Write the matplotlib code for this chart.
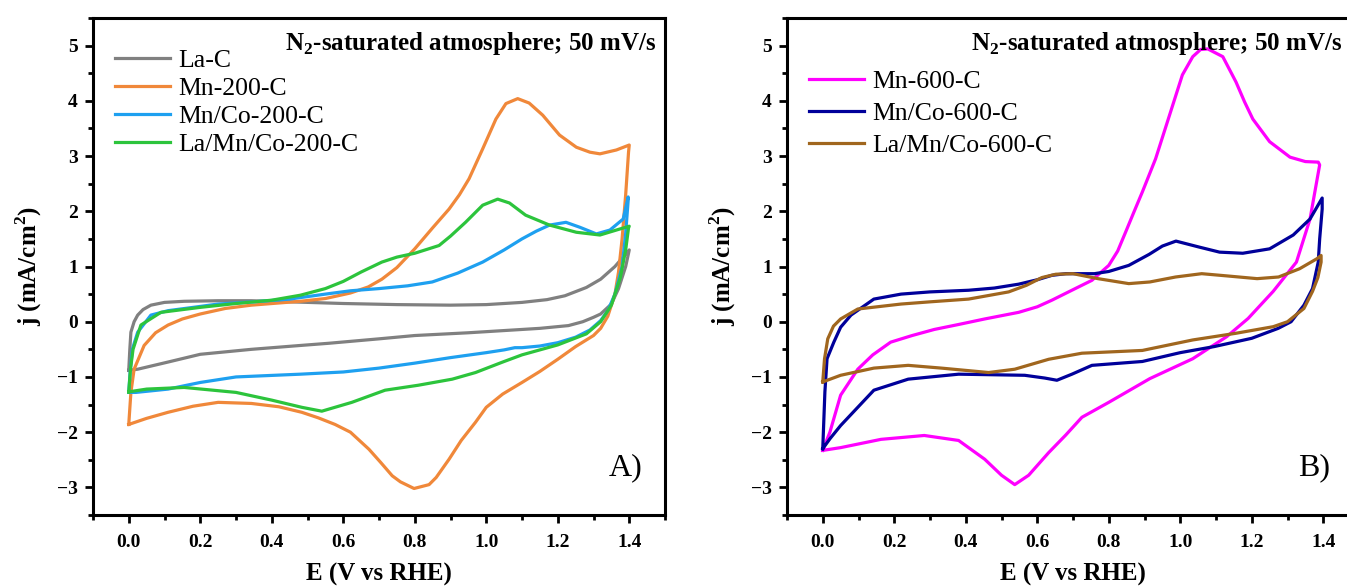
import numpy as np
import matplotlib
matplotlib.use('Agg')
import matplotlib.pyplot as plt
from matplotlib.ticker import MultipleLocator

# ---- panel A data (E in V vs RHE, j in mA/cm2), closed CV loops ----
E_LaC = [0.0, 0.003, 0.006, 0.015, 0.025, 0.04, 0.062, 0.1, 0.155, 0.25, 0.343, 0.45, 0.6, 0.75, 0.9,
         1.0, 1.1, 1.17, 1.22, 1.28, 1.32, 1.36, 1.38, 1.4,
         1.39, 1.37, 1.35, 1.32, 1.3, 1.27, 1.23, 1.15, 1.05, 0.95, 0.8, 0.7, 0.56, 0.48, 0.343,
         0.2, 0.11, 0.025, 0.0]
j_LaC = [-0.88, -0.5, -0.19, 0.0, 0.12, 0.22, 0.3, 0.35, 0.37, 0.38, 0.38, 0.36, 0.33, 0.31, 0.3,
         0.31, 0.35, 0.4, 0.47, 0.62, 0.77, 1.0, 1.15, 1.3,
         1.0, 0.6, 0.32, 0.14, 0.08, 0.0, -0.07, -0.12, -0.16, -0.2, -0.25, -0.31, -0.39, -0.43, -0.5,
         -0.59, -0.73, -0.86, -0.88]

E_Mn200 = [0.0, 0.006, 0.015, 0.043, 0.075, 0.11, 0.15, 0.2, 0.27, 0.343, 0.48, 0.55, 0.62, 0.67,
           0.708, 0.75, 0.8, 0.85, 0.896, 0.925, 0.952, 0.99, 1.027, 1.055, 1.088, 1.12, 1.158,
           1.205, 1.252, 1.29, 1.318, 1.364, 1.4,
           1.398, 1.39, 1.38, 1.37, 1.36, 1.34, 1.32, 1.3, 1.25, 1.2, 1.15, 1.1, 1.046, 1.0, 0.97,
           0.93, 0.896, 0.86, 0.84, 0.798, 0.76, 0.737, 0.705, 0.672, 0.62, 0.577, 0.53, 0.484,
           0.42, 0.343, 0.25, 0.18, 0.11, 0.05, 0.0]
j_Mn200 = [-1.86, -1.28, -0.86, -0.43, -0.2, -0.06, 0.05, 0.14, 0.24, 0.3, 0.37, 0.42, 0.52, 0.63,
           0.77, 0.98, 1.32, 1.7, 2.04, 2.3, 2.59, 3.13, 3.67, 3.95, 4.04, 3.96, 3.74,
           3.38, 3.16, 3.07, 3.04, 3.11, 3.2,
           3.07, 2.3, 1.5, 0.9, 0.5, 0.1, -0.12, -0.25, -0.45, -0.68, -0.9, -1.1, -1.31, -1.55, -1.82,
           -2.15, -2.49, -2.82, -2.95, -3.02, -2.9, -2.79, -2.55, -2.31, -2.0, -1.86, -1.74, -1.64,
           -1.54, -1.48, -1.46, -1.53, -1.64, -1.75, -1.86]

E_MnCo200 = [0.0, 0.004, 0.01, 0.025, 0.062, 0.11, 0.25, 0.35, 0.45, 0.55, 0.62, 0.7, 0.78, 0.849,
             0.92, 0.99, 1.05, 1.1, 1.14, 1.177, 1.223, 1.262, 1.308, 1.346, 1.383, 1.397,
             1.397, 1.39, 1.38, 1.36, 1.34, 1.32, 1.29, 1.25, 1.2, 1.15, 1.1, 1.08, 1.05, 1.0, 0.9,
             0.8, 0.7, 0.6, 0.48, 0.3, 0.2, 0.11, 0.02, 0.0]
j_MnCo200 = [-1.28, -0.9, -0.5, -0.19, 0.12, 0.2, 0.32, 0.36, 0.41, 0.5, 0.56, 0.6, 0.65, 0.72,
             0.88, 1.08, 1.3, 1.5, 1.64, 1.75, 1.8, 1.71, 1.59, 1.66, 1.86, 2.26,
             2.2, 1.6, 1.0, 0.5, 0.2, 0.02, -0.15, -0.28, -0.38, -0.44, -0.47, -0.47, -0.51, -0.56, -0.65,
             -0.75, -0.84, -0.91, -0.95, -1.0, -1.1, -1.22, -1.28, -1.28]

E_LaMnCo200 = [0.0, 0.005, 0.012, 0.034, 0.09, 0.2, 0.3, 0.4, 0.48, 0.55, 0.6, 0.65, 0.708, 0.75,
               0.8, 0.868, 0.9, 0.942, 0.99, 1.032, 1.065, 1.11, 1.177, 1.252, 1.318, 1.364, 1.4,
               1.398, 1.39, 1.375, 1.35, 1.32, 1.28, 1.2, 1.1, 1.046, 0.97, 0.905, 0.81, 0.717, 0.624,
               0.54, 0.484, 0.4, 0.3, 0.155, 0.05, 0.0]
j_LaMnCo200 = [-1.27, -0.85, -0.5, -0.06, 0.17, 0.26, 0.33, 0.39, 0.48, 0.6, 0.73, 0.9, 1.08, 1.17,
               1.24, 1.38, 1.55, 1.8, 2.11, 2.22, 2.15, 1.93, 1.75, 1.62, 1.57, 1.66, 1.73,
               1.7, 1.3, 0.8, 0.3, 0.0, -0.22, -0.42, -0.6, -0.73, -0.92, -1.04, -1.15, -1.24, -1.46,
               -1.62, -1.55, -1.42, -1.28, -1.19, -1.22, -1.27]

# ---- panel B data ----
E_Mn600 = [0.0, 0.02, 0.05, 0.098, 0.14, 0.19, 0.25, 0.312, 0.38, 0.453, 0.548, 0.6, 0.641, 0.7,
           0.753, 0.8, 0.825, 0.847, 0.87, 0.894, 0.931, 0.97, 1.006, 1.035, 1.057, 1.077, 1.119,
           1.156, 1.18, 1.203, 1.25, 1.307, 1.35, 1.386,
           1.39, 1.363, 1.325, 1.26, 1.19, 1.13, 1.035, 0.915, 0.8, 0.725, 0.68, 0.632, 0.576,
           0.537, 0.5, 0.453, 0.38, 0.284, 0.163, 0.05, 0.0]
j_Mn600 = [-2.33, -2.0, -1.33, -0.86, -0.6, -0.37, -0.25, -0.14, -0.05, 0.05, 0.17, 0.27, 0.39, 0.58,
           0.75, 1.02, 1.28, 1.62, 1.98, 2.35, 2.95, 3.74, 4.47, 4.8, 4.93, 4.94, 4.8,
           4.34, 3.98, 3.67, 3.26, 2.98, 2.9, 2.89,
           2.84, 1.86, 1.08, 0.55, 0.06, -0.27, -0.67, -1.03, -1.46, -1.73, -2.05, -2.37, -2.78,
           -2.95, -2.78, -2.49, -2.15, -2.06, -2.13, -2.28, -2.33]

E_MnCo600 = [0.0, 0.006, 0.012, 0.031, 0.05, 0.079, 0.143, 0.219, 0.3, 0.408, 0.48, 0.548, 0.6,
             0.641, 0.68, 0.76, 0.8, 0.856, 0.913, 0.95, 0.988, 1.054, 1.11, 1.175, 1.25, 1.316,
             1.363, 1.397,
             1.397, 1.39, 1.386, 1.37, 1.346, 1.31, 1.274, 1.2, 1.095, 1.0, 0.894, 0.753, 0.697,
             0.655, 0.621, 0.565, 0.38, 0.239, 0.143, 0.05, 0.02, 0.0]
j_MnCo600 = [-2.3, -1.27, -0.67, -0.37, -0.1, 0.12, 0.41, 0.5, 0.54, 0.57, 0.61, 0.68, 0.76,
             0.84, 0.87, 0.87, 0.91, 1.02, 1.22, 1.37, 1.46, 1.35, 1.26, 1.24, 1.32, 1.57,
             1.86, 2.24,
             2.04, 1.5, 1.08, 0.6, 0.3, 0.0, -0.12, -0.3, -0.45, -0.56, -0.72, -0.79, -0.95,
             -1.06, -1.02, -0.97, -0.95, -1.04, -1.24, -1.88, -2.12, -2.3]

E_LaMnCo600 = [0.0, 0.005, 0.014, 0.03, 0.05, 0.098, 0.219, 0.3, 0.408, 0.52, 0.57, 0.613, 0.652,
               0.7, 0.77, 0.856, 0.915, 0.987, 1.06, 1.13, 1.215, 1.275, 1.334, 1.382, 1.394,
               1.394, 1.385, 1.37, 1.346, 1.3, 1.26, 1.155, 1.035, 0.894, 0.725, 0.632, 0.537,
               0.464, 0.332, 0.239, 0.143, 0.05, 0.0]
j_LaMnCo600 = [-1.09, -0.67, -0.31, -0.08, 0.05, 0.23, 0.32, 0.36, 0.41, 0.54, 0.66, 0.8, 0.86,
               0.87, 0.78, 0.69, 0.72, 0.81, 0.87, 0.83, 0.78, 0.81, 0.96, 1.14, 1.2,
               1.08, 0.8, 0.55, 0.24, 0.0, -0.09, -0.21, -0.33, -0.52, -0.57, -0.68, -0.86,
               -0.92, -0.84, -0.79, -0.84, -0.97, -1.09]

XTICKS = [0.0, 0.2, 0.4, 0.6, 0.8, 1.0, 1.2, 1.4]
YTICKS = [-3, -2, -1, 0, 1, 2, 3, 4, 5]
NOTE = 'N$_\\mathbf{2}$-saturated atmosphere; 50 mV/s'

plt.rcParams['font.family'] = 'Liberation Serif'
plt.rcParams['mathtext.fontset'] = 'custom'
plt.rcParams['mathtext.rm'] = 'Liberation Serif'
plt.rcParams['mathtext.bf'] = 'Liberation Serif:bold'

LW = 2.3


def style_axes(ax, letter, note_x, letter_x):
	ax.set_xlim(-0.1, 1.5)
	ax.set_ylim(-3.5, 5.5)
	ax.set_xticks(XTICKS)
	ax.set_xticklabels(['%.1f' % v for v in XTICKS])
	ax.set_yticks(YTICKS)
	ax.xaxis.set_minor_locator(MultipleLocator(0.1))
	ax.yaxis.set_minor_locator(MultipleLocator(0.5))
	for s in ax.spines.values():
		s.set_linewidth(2.2)
	ax.tick_params(which='major', direction='out', length=6, width=2, labelsize=14, pad=5)
	ax.tick_params(axis='x', which='major', pad=8)
	ax.tick_params(which='minor', direction='out', length=3.5, width=2)
	ax.tick_params(top=False, right=False)
	for lab in ax.get_xticklabels() + ax.get_yticklabels():
		lab.set_fontweight('bold')
	ax.set_xlabel('E (V vs RHE)', fontsize=18, fontweight='bold', labelpad=8)
	ax.set_ylabel('j (mA/cm$^\\mathbf{2}$)', fontsize=18, fontweight='bold', labelpad=9)
	ax.text(note_x, 0.975, NOTE, transform=ax.transAxes, ha='right', va='top',
			fontsize=18, fontweight='bold')
	ax.text(letter_x, 0.065, letter, transform=ax.transAxes, ha='right', va='bottom', fontsize=23)


fig = plt.figure(figsize=(13.47, 5.88), dpi=100)
axA = fig.add_axes([93 / 1347, 1 - 515 / 588, 572 / 1347, 497 / 588])
axB = fig.add_axes([787 / 1347, 1 - 515 / 588, 572 / 1347, 497 / 588])

axA.plot(E_LaC, j_LaC, color='#808080', lw=LW, label='La-C')
axA.plot(E_Mn200, j_Mn200, color='#f0883a', lw=LW, label='Mn-200-C')
axA.plot(E_MnCo200, j_MnCo200, color='#1ea0f0', lw=LW, label='Mn/Co-200-C')
axA.plot(E_LaMnCo200, j_LaMnCo200, color='#2cc43c', lw=LW, label='La/Mn/Co-200-C')
style_axes(axA, 'A)', 0.985, 0.96)
axA.legend(loc='upper left', bbox_to_anchor=(0.016, 0.963), frameon=False, fontsize=18.5,
		   handlelength=2.15, handletextpad=0.3, labelspacing=0.19, borderpad=0)

axB.plot(E_Mn600, j_Mn600, color='#ff00ff', lw=LW, label='Mn-600-C')
axB.plot(E_MnCo600, j_MnCo600, color='#00009a', lw=LW, label='Mn/Co-600-C')
axB.plot(E_LaMnCo600, j_LaMnCo600, color='#a0661e', lw=LW, label='La/Mn/Co-600-C')
style_axes(axB, 'B)', 0.97, 0.95)
axB.legend(loc='upper left', bbox_to_anchor=(0.016, 0.921), frameon=False, fontsize=18.5,
		   handlelength=2.15, handletextpad=0.3, labelspacing=0.35, borderpad=0)

fig.savefig('out.png', dpi=100)
